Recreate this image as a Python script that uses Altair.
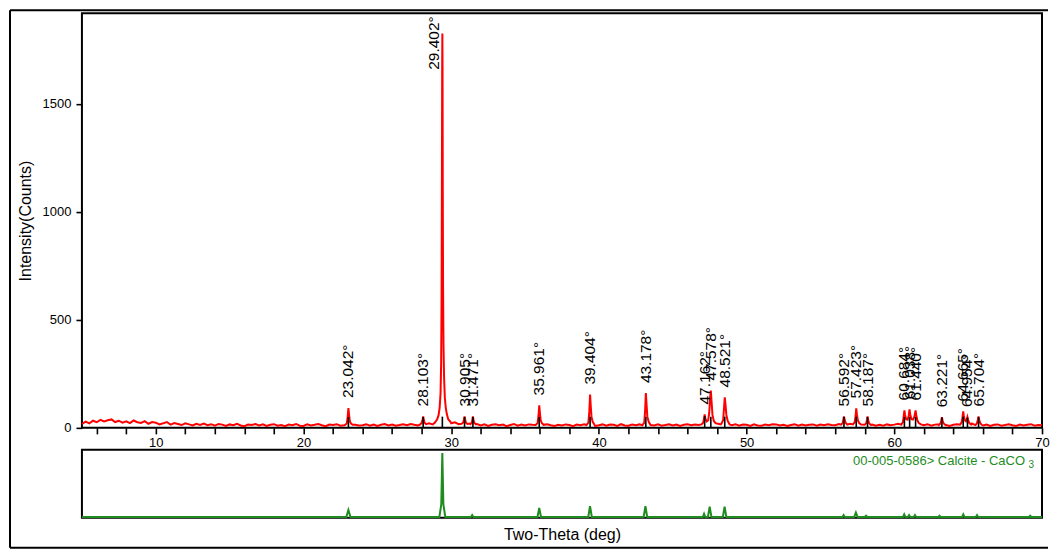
import altair as alt
import pandas as pd

FONT = "Liberation Sans"
RED = "#ff0000"
GREEN = "#1e8c1e"

# ---------------- measured pattern (red) ----------------
# background counts, sampled every 0.25 deg from 5.0 to 70.0
bg_start = 5.0
bg_step = 0.25
bg_counts = [
    18, 29, 21, 33,  26, 37, 30, 35,  39, 27, 33, 24,  30, 22, 34, 26,
    23, 31, 19, 27,  24, 16, 21, 27,  15, 22, 18, 13,  21, 16, 11, 19,
    14, 20, 12, 17,  10, 18, 15, 9,   16, 12, 19, 11,  8, 15, 13, 18,
    11, 16, 9, 14,   17, 10, 13, 8,   15, 12, 18, 10,  9, 16, 11, 14,
    18, 12, 8, 15,   13, 17, 10, 12,  16, 9, 14, 11,   12, 17, 10, 15,
    9, 14, 18, 11,   15, 10, 13, 17,  12, 18, 14, 11,  19, 14, 21, 16,
    24, 22, 32, 28,  21, 26, 17, 23,  15, 20, 13, 18,  11, 16, 9, 14,
    17, 12, 15, 8,   13, 18, 10, 15,  11, 16, 14, 9,   15, 10, 17, 12,
    9, 14, 11, 16,   13, 8, 15, 12,   17, 11, 14, 9,   12, 16, 10, 15,
    14, 9, 17, 11,   10, 15, 12, 16,  13, 9, 14, 11,   16, 10, 13, 17,
    11, 15, 9, 14,   17, 12, 16, 13,  19, 15, 22, 17,  20, 16, 23, 14,
    12, 17, 10, 15,  14, 9, 16, 11,   10, 15, 12, 17,  16, 11, 14, 9,
    13, 17, 10, 15,  11, 14, 16, 10,  15, 12, 17, 13,  12, 18, 14, 16,
    19, 14, 20, 13,  17, 12, 15, 10,  14, 10, 16, 12,  15, 19, 13, 18,
    21, 16, 19, 14,  12, 17, 10, 15,  16, 11, 13, 9,   14, 17, 12, 18,
    16, 20, 13, 17,  11, 15, 9, 14,   16, 10, 13, 17,  12, 9, 15, 11,
    14, 17, 10, 13,  12,
]

# peak regions of the measured pattern: (two-theta, counts)
red_peaks = [
    [(22.80, 13), (22.93, 20), (22.99, 50), (23.042, 92), (23.09, 58), (23.14, 30), (23.22, 20), (23.32, 14)],
    [(27.88, 15), (28.00, 22), (28.06, 38), (28.103, 53), (28.15, 36), (28.20, 24), (28.30, 17)],
    [(28.90, 25), (29.05, 40), (29.15, 60), (29.22, 95), (29.28, 160), (29.32, 300), (29.35, 600),
     (29.37, 1100), (29.39, 1650), (29.402, 1826), (29.415, 1650), (29.43, 1100), (29.45, 650),
     (29.48, 380), (29.52, 230), (29.57, 140), (29.63, 95), (29.70, 65), (29.80, 40), (29.95, 28)],
    [(30.70, 19), (30.82, 25), (30.87, 40), (30.905, 53), (30.95, 38), (31.00, 24), (31.10, 18)],
    [(31.30, 17), (31.40, 24), (31.44, 40), (31.471, 53), (31.51, 38), (31.56, 24), (31.68, 16)],
    [(35.72, 13), (35.85, 22), (35.91, 55), (35.961, 104), (36.01, 66), (36.06, 35), (36.14, 22), (36.26, 14)],
    [(39.16, 13), (39.29, 24), (39.35, 75), (39.404, 154), (39.45, 100), (39.50, 50), (39.58, 28), (39.70, 14)],
    [(42.94, 12), (43.07, 24), (43.13, 80), (43.178, 161), (43.23, 105), (43.28, 52), (43.37, 28), (43.50, 13)],
    [(46.95, 16), (47.07, 25), (47.12, 45), (47.162, 62), (47.21, 42), (47.30, 30), (47.40, 35), (47.47, 70),
     (47.53, 140), (47.578, 173), (47.63, 120), (47.69, 60), (47.78, 32), (47.90, 22)],
    [(48.30, 20), (48.41, 35), (48.47, 90), (48.521, 141), (48.57, 110), (48.63, 60), (48.72, 32), (48.85, 16)],
    [(56.40, 15), (56.50, 22), (56.55, 38), (56.592, 53), (56.64, 38), (56.70, 24), (56.82, 15)],
    [(57.20, 16), (57.32, 26), (57.38, 55), (57.423, 90), (57.47, 62), (57.53, 36), (57.62, 22), (57.75, 15)],
    [(58.00, 14), (58.10, 22), (58.15, 38), (58.187, 53), (58.23, 36), (58.30, 20), (58.42, 13)],
    [(60.48, 15), (60.59, 28), (60.64, 55), (60.684, 81), (60.73, 60), (60.80, 40), (60.90, 38), (60.97, 55),
     (61.03, 86), (61.08, 62), (61.16, 40), (61.26, 38), (61.36, 52), (61.44, 81), (61.49, 58), (61.56, 35),
     (61.66, 22), (61.80, 16)],
    [(63.02, 13), (63.12, 20), (63.18, 34), (63.221, 49), (63.27, 34), (63.34, 20), (63.46, 13)],
    [(64.45, 15), (64.56, 26), (64.62, 50), (64.665, 76), (64.71, 55), (64.77, 35), (64.85, 30), (64.91, 40),
     (64.95, 50), (65.00, 36), (65.08, 22), (65.20, 15)],
    [(65.50, 13), (65.60, 22), (65.66, 38), (65.704, 53), (65.75, 36), (65.82, 22), (65.94, 13)],
]

# labelled peaks
label_pos = [23.042, 28.103, 30.905, 31.471, 35.961, 39.404, 43.178, 47.162, 47.578, 48.521,
             56.592, 57.423, 58.187, 60.684, 61.038, 61.440, 63.221, 64.665, 64.954, 65.704]
label_text = ["23.042°", "28.103°", "30.905°", "31.471°", "35.961°", "39.404°", "43.178°", "47.162°",
              "47.578°", "48.521°", "56.592°", "57.423°", "58.187°", "60.684°", "61.038°", "61.440°",
              "63.221°", "64.665°", "64.954°", "65.704°"]
label_height = [92, 53, 53, 53, 104, 154, 161, 62, 173, 141, 53, 90, 53, 81, 86, 81, 49, 76, 50, 53]

top_peak_pos = [29.402]
top_peak_text = ["29.402°"]

# peak marker sticks (black)
stick_pos = [23.042, 28.103, 29.402, 30.905, 31.471, 35.961, 39.404, 43.178, 47.162, 47.578, 48.521,
             56.592, 57.423, 58.187, 60.684, 61.038, 61.440, 63.221, 64.665, 64.954, 65.704]
stick_counts = [50, 50, 52, 50, 50, 50, 52, 52, 55, 52, 52, 50, 52, 50, 50, 50, 50, 48, 52, 48, 50]

# ---------------- reference pattern (green) ----------------
green_x = [5.0, 22.90, 23.04, 23.18, 29.20, 29.33, 29.40, 29.47, 29.60, 31.33, 31.42, 31.51,
           35.84, 35.96, 36.08, 39.28, 39.40, 39.52, 43.03, 43.15, 43.27, 47.04, 47.12, 47.20,
           47.38, 47.50, 47.62, 48.39, 48.51, 48.63, 56.49, 56.57, 56.65, 57.28, 57.40, 57.52,
           58.01, 58.09, 58.17, 60.59, 60.67, 60.75, 60.92, 61.00, 61.08, 61.32, 61.40, 61.48,
           62.98, 63.06, 63.14, 64.59, 64.67, 64.75, 65.52, 65.60, 65.68, 69.12, 69.20, 69.28, 70.0]
green_y = [0, 0, 11, 0, 0, 20, 100, 20, 0, 0, 3, 0,
           0, 14, 0, 0, 17, 0, 0, 17, 0, 0, 5, 0,
           0, 16, 0, 0, 16, 0, 0, 3, 0, 0, 7, 0,
           0, 2, 0, 0, 4, 0, 0, 3, 0, 0, 3, 0,
           0, 2, 0, 0, 4, 0, 0, 3, 0, 0, 2, 0, 0]
card_text = ["00-005-0586> Calcite - CaCO"]
card_sub = ["3"]

# axis tick values / labels
tick_values = list(range(6, 71, 2))
label_values = [10, 20, 30, 40, 50, 60, 70]
y_tick_values = [0, 500, 1000, 1500]

# ---------------- build tables ----------------
pts = []
ranges = [(seg[0][0], seg[-1][0]) for seg in red_peaks]
for i, c in enumerate(bg_counts):
    xv = bg_start + i * bg_step
    if any(a <= xv <= b for a, b in ranges):
        continue
    pts.append((xv, c))
for seg in red_peaks:
    pts.extend(seg)
pts.sort(key=lambda p: p[0])
red_df = pd.DataFrame({"theta": [p[0] for p in pts], "counts": [p[1] for p in pts],
                       "order": list(range(len(pts)))})

label_df = pd.DataFrame({"theta": label_pos, "txt": label_text, "counts": label_height})
top_df = pd.DataFrame({"theta": top_peak_pos, "txt": top_peak_text, "counts": [1920]})
stick_df = pd.DataFrame({"theta": stick_pos, "h": stick_counts, "counts": [0] * len(stick_pos)})
green_df = pd.DataFrame({"theta": green_x, "inten": green_y, "order": list(range(len(green_x)))})
card_df = pd.DataFrame({"t": card_text, "theta": [70], "inten": [105]})
sub_df = pd.DataFrame({"t": card_sub, "theta": [70], "inten": [105]})
one = pd.DataFrame({"k": [0]})

x_scale = alt.Scale(domain=[5, 70], nice=False, zero=False)
y_scale = alt.Scale(domain=[0, 1920], nice=False, zero=True)
g_scale = alt.Scale(domain=[-1.2, 105], nice=False, zero=False)

label_test = " || ".join(f"datum.value == {v}" for v in label_values)
x_axis = alt.Axis(values=tick_values,
                  labelExpr=f"({label_test}) ? datum.label : ''",
                  title=None, domain=False, grid=False, tickSize=6, tickWidth=1.6,
                  tickColor="black", labelFont=FONT, labelFontSize=13, labelColor="black",
                  labelPadding=3, labelOverlap=False, labelFlush=False, labelBound=False,
                  labelSeparation=0)
y_axis = alt.Axis(values=y_tick_values, format="d", title="Intensity(Counts)", domain=False, grid=False,
                  tickSize=6, tickWidth=1.6, tickColor="black", labelFont=FONT, labelFontSize=13,
                  labelColor="black", labelPadding=5, titleFont=FONT, titleFontSize=16,
                  titleFontWeight="normal", titleColor="black", titlePadding=9)
gx_axis = alt.Axis(title="Two-Theta (deg)", labels=False, ticks=False, domain=False, grid=False,
                   titleFont=FONT, titleFontSize=16, titleFontWeight="normal",
                   titleColor="black", titlePadding=9)

X = alt.X("theta:Q", scale=x_scale, axis=x_axis)
Y = alt.Y("counts:Q", scale=y_scale, axis=y_axis)

W = 961
red_line = alt.Chart(red_df).mark_line(color=RED, strokeWidth=2).encode(x=X, y=Y, order="order:Q")
sticks = alt.Chart(stick_df).mark_rule(color="black", strokeWidth=1.6).encode(x=X, y=Y, y2="h:Q")
labels = alt.Chart(label_df).mark_text(angle=270, align="left", baseline="middle", dx=10,
                                       font=FONT, fontSize=15.5, color="black").encode(
    x=X, y=Y, text="txt:N")
top_label = alt.Chart(top_df).mark_text(angle=270, align="right", baseline="middle", dx=-3, dy=-8,
                                        font=FONT, fontSize=15.5, color="black").encode(
    x=X, y=Y, text="txt:N")
frame_top = alt.Chart(one).mark_rule(color="black", strokeWidth=2).encode(
    x=alt.value(-72), x2=alt.value(967), y=alt.value(-3))
frame_left = alt.Chart(one).mark_rule(color="black", strokeWidth=2).encode(
    x=alt.value(-72), y=alt.value(-3), y2=alt.value(535))
frame_bottom = alt.Chart(one).mark_rule(color="black", strokeWidth=2).encode(
    x=alt.value(-72), x2=alt.value(967), y=alt.value(535))

main = alt.layer(red_line, sticks, labels, top_label, frame_top, frame_left, frame_bottom).properties(
    width=W, height=415)

GX = alt.X("theta:Q", scale=x_scale, axis=gx_axis)
GY = alt.Y("inten:Q", scale=g_scale, axis=None)
g_line = alt.Chart(green_df).mark_line(color=GREEN, strokeWidth=2).encode(x=GX, y=GY, order="order:Q")
card = alt.Chart(card_df).mark_text(align="right", baseline="top", dx=-17, dy=5, font=FONT,
                                    fontSize=13, color=GREEN).encode(x=GX, y=GY, text="t:N")
sub = alt.Chart(sub_df).mark_text(align="right", baseline="top", dx=-8, dy=10, font=FONT,
                                  fontSize=10, color=GREEN).encode(x=GX, y=GY, text="t:N")
bottom = alt.layer(g_line, card, sub).properties(width=W, height=68)

chart = alt.vconcat(main, bottom, spacing=22, bounds="flush").properties(
    padding=0, background="white"
).configure_view(stroke="black", strokeWidth=2).configure_axisX(labelOverlap=False)

chart.save("out.html", embed_options={"renderer": "svg", "actions": False})
